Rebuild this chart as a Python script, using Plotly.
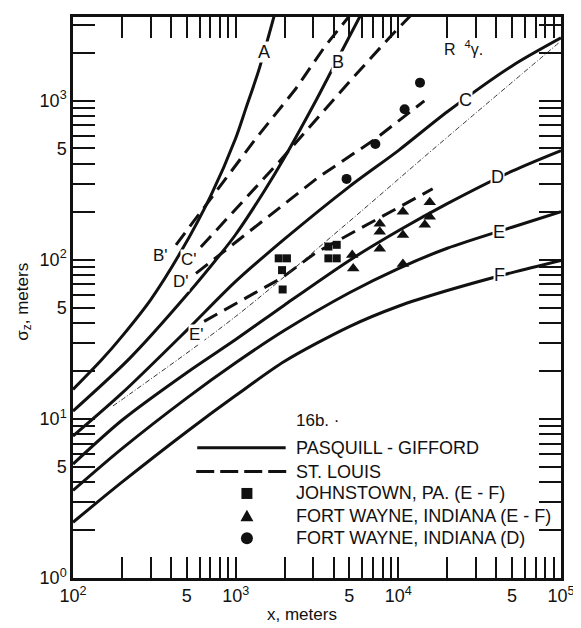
import math
import plotly.graph_objects as go

# ---------------- data ----------------
# Pasquill-Gifford curves, x in metres, sigma_z in metres
pg_x = [100, 200, 500, 1000, 2000, 5000, 10000, 20000, 50000, 100000]
pg_c = [7.8, 14.5, 36, 73, 135, 288, 485, 850, 1650, 2476]
pg_d = [5.2, 9.8, 19.5, 31.5, 52, 99, 152, 225, 360, 485]
pg_e = [3.55, 6.5, 13.5, 22.5, 36, 62, 88, 118, 160, 200]
pg_f = [2.24, 4.0, 8.3, 14, 23, 38, 51, 64, 83, 99]
pg_a_x = [100, 150, 200, 300, 460, 700, 1000, 1150, 1400, 1750]
pg_a = [15.3, 23.5, 33, 56, 112, 250, 580, 880, 1600, 3600]
pg_b_x = [100, 223, 500, 828, 1000, 1500, 2000, 3000, 4000, 6000]
pg_b = [11.2, 24, 60, 112, 144, 270, 440, 930, 1630, 3600]

# St. Louis curves (dashed)
stl_b_x = [430, 755, 1324, 2328, 3548, 5000]
stl_b = [124, 266, 573, 1177, 2197, 3400]
stl_c_x = [611, 1841, 5130, 9010, 12000]
stl_c = [120, 410, 1352, 2548, 3450]
stl_d_x = [570, 3230, 7160, 14450]
stl_d = [82, 330, 570, 995]
stl_e_x = [640, 1928, 3080, 16260]
stl_e = [41, 77, 110, 279]

# thin hand-drawn line
thin_x = [176, 223, 1000, 4700, 17460, 97000]
thin_y = [12.05, 14.3, 44, 165, 523, 2305]

# observations
johnstown_x = [1839, 2066, 1928, 1945, 3715, 4180, 3715, 4180]
johnstown_y = [102, 102, 86, 65, 121, 124, 102, 102]
fw_ef_x = [5207, 5282, 7688, 7688, 7688, 10670, 10670, 10670, 14540, 15600, 15600]
fw_ef_y = [107, 88, 168, 150, 117, 200, 143, 94, 166, 186, 230]
fw_d_x = [4806, 7225, 10930, 13590]
fw_d_y = [322, 533, 882, 1296]

# tick labels
x_tickvals = [m * 10 ** e for e in (2, 3, 4) for m in range(1, 10)] + [100000]
x_ticklabels = {100: "10<sup>2</sup>", 500: "5", 1000: "10<sup>3</sup>", 5000: "5",
                10000: "10<sup>4</sup>", 50000: "5", 100000: "10<sup>5</sup>"}
y_tickvals = [m * 10 ** e for e in (0, 1, 2) for m in range(1, 10)] + [1000, 2000, 3000]
y_ticklabels = {1: "10<sup>0</sup>", 5: "5", 10: "10<sup>1</sup>", 50: "5",
                100: "10<sup>2</sup>", 500: "5", 1000: "10<sup>3</sup>"}

legend_labels = ["PASQUILL - GIFFORD", "ST. LOUIS", "JOHNSTOWN, PA. (E - F)",
                 "FORT WAYNE, INDIANA (E - F)", "FORT WAYNE, INDIANA (D)"]

# ---------------- figure ----------------
FONT = "Liberation Sans, Arial, Helvetica, sans-serif"
BLACK = "#111111"
fig = go.Figure()

solid = dict(color=BLACK, width=3)
for xs, ys in [(pg_a_x, pg_a), (pg_b_x, pg_b), (pg_x, pg_c), (pg_x, pg_d), (pg_x, pg_e), (pg_x, pg_f)]:
    fig.add_trace(go.Scatter(x=xs, y=ys, mode="lines", line=dict(shape="spline", smoothing=0.8, **solid),
                             showlegend=False, hoverinfo="skip"))

dashed = dict(color=BLACK, width=3, dash="15px,8px")
for xs, ys in [(stl_b_x, stl_b), (stl_c_x, stl_c), (stl_d_x, stl_d), (stl_e_x, stl_e)]:
    fig.add_trace(go.Scatter(x=xs, y=ys, mode="lines", line=dashed, showlegend=False, hoverinfo="skip"))

fig.add_trace(go.Scatter(x=thin_x, y=thin_y, mode="lines",
                         line=dict(color="#333333", width=1, dash="5px,2px,1px,2px", shape="spline"),
                         showlegend=False, hoverinfo="skip"))

fig.add_trace(go.Scatter(x=johnstown_x, y=johnstown_y, mode="markers",
                         marker=dict(symbol="square", size=8, color=BLACK), showlegend=False))
fig.add_trace(go.Scatter(x=fw_ef_x, y=fw_ef_y, mode="markers",
                         marker=dict(symbol="triangle-up", size=11, color=BLACK), showlegend=False))
fig.add_trace(go.Scatter(x=fw_d_x, y=fw_d_y, mode="markers",
                         marker=dict(symbol="circle", size=10, color=BLACK), showlegend=False))

# ---------------- annotations ----------------
ann = []
def lab(text, x, y, size=18, bg="white"):
    ann.append(dict(text=text, x=math.log10(x), y=math.log10(y), xref="x", yref="y",
                    xanchor="center", yanchor="middle",
                    showarrow=False, font=dict(family=FONT, size=size, color=BLACK),
                    bgcolor=bg, borderpad=0))

lab("A", 1490, 2020)
lab("B", 4280, 1750)
lab("C", 25900, 1015)
lab("D", 40500, 330)
lab("E", 41800, 150)
lab("F", 41800, 80.5)
lab("B'", 345, 106, size=17)
lab("C'", 519, 100, size=17)
lab("D'", 463, 72.9, size=17)
lab("E'", 571, 34, size=17)
lab("16b. ·", 3200, 9.8, size=17, bg="rgba(0,0,0,0)")
lab("R  <sup>4</sup>γ.", 25000, 2150, size=16, bg="rgba(0,0,0,0)")

# axis titles
ann.append(dict(text="x, meters", x=0.4684, y=-0.0656, xref="paper", yref="paper", showarrow=False,
                xanchor="center", yanchor="middle", font=dict(family=FONT, size=17, color=BLACK)))
ann.append(dict(text="σ<sub>z</sub>, meters", x=-0.0998, y=0.493, xref="paper", yref="paper",
                xanchor="center", yanchor="middle",
                showarrow=False, textangle=-90, font=dict(family=FONT, size=17, color=BLACK)))

# legend (drawn by hand)
leg_y = [0.2323, 0.1897, 0.1507, 0.1099, 0.0709]
for lbl, yy in zip(legend_labels, leg_y):
    ann.append(dict(text=lbl, x=0.452, y=yy, xref="paper", yref="paper", xanchor="left",
                    yanchor="middle", showarrow=False, font=dict(family=FONT, size=18, color=BLACK)))

shapes = [
    dict(type="line", xref="paper", yref="paper", x0=0.2546, x1=0.4358, y0=leg_y[0], y1=leg_y[0],
         line=dict(color=BLACK, width=3)),
    dict(type="line", xref="paper", yref="paper", x0=0.2525, x1=0.442, y0=leg_y[1], y1=leg_y[1],
         line=dict(color=BLACK, width=3, dash="18px,6px")),
    dict(type="rect", xref="paper", yref="paper", xsizemode="pixel", ysizemode="pixel",
         xanchor=0.3564, yanchor=leg_y[2], x0=-5.5, x1=5.5, y0=-5.5, y1=5.5,
         fillcolor=BLACK, line=dict(width=0)),
    dict(type="path", xref="paper", yref="paper", xsizemode="pixel", ysizemode="pixel",
         xanchor=0.3564, yanchor=leg_y[3], path="M -6.5,-5 L 6.5,-5 L 0,6.5 Z",
         fillcolor=BLACK, line=dict(width=0)),
    dict(type="circle", xref="paper", yref="paper", xsizemode="pixel", ysizemode="pixel",
         xanchor=0.3564, yanchor=leg_y[4], x0=-6, x1=6, y0=-6, y1=6,
         fillcolor=BLACK, line=dict(width=0)),
]

axis_common = dict(type="log", showgrid=False, zeroline=False, showline=True, linecolor=BLACK,
                   linewidth=2.5, mirror="ticks", ticks="inside", tickcolor=BLACK, tickwidth=1.6,
                   tickfont=dict(family=FONT, size=18, color=BLACK))

# the page body adds an 8px margin, so the figure is 8px smaller on each axis
fig.update_layout(
    width=573, height=620,
    margin=dict(l=65, r=17, t=6, b=50),
    paper_bgcolor="white", plot_bgcolor="white",
    showlegend=False,
    xaxis=dict(range=[2, 5], tickvals=x_tickvals,
               ticktext=[x_ticklabels.get(v, "") for v in x_tickvals], ticklen=21, **axis_common),
    yaxis=dict(range=[0, 3.525], tickvals=y_tickvals,
               ticktext=[y_ticklabels.get(v, "") for v in y_tickvals], ticklen=22, **axis_common),
    annotations=ann,
    shapes=shapes,
)

fig.write_html("out.html")
